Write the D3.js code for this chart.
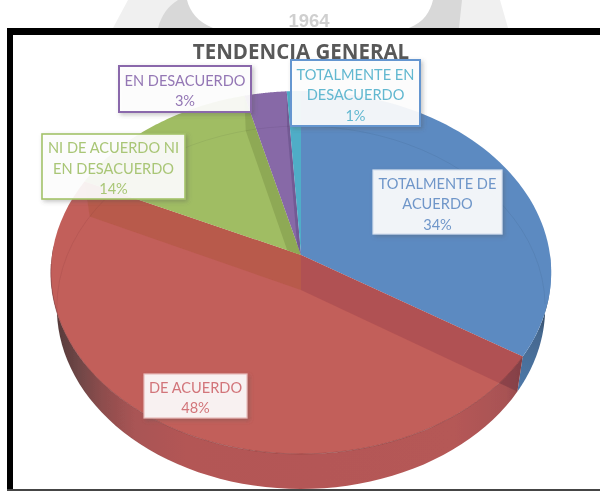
<!DOCTYPE html>
<html><head><meta charset="utf-8">
<script src="https://cdn.jsdelivr.net/npm/d3@7"></script>
<style>html,body{margin:0;padding:0;background:#fff;overflow:hidden}svg{display:block}text{font-family:Lato,"Open Sans",sans-serif}</style>
</head><body><svg id="c" width="600" height="491"></svg>
<script>
const categories = ["TOTALMENTE DE ACUERDO","DE ACUERDO","NI DE ACUERDO NI EN DESACUERDO","EN DESACUERDO","TOTALMENTE EN DESACUERDO"];
const values = [34,48,14,3,1];
const sliceColors = ["#5c8ac1","#c25e5a","#a0bd64","#8769a7","#4fadc7"];
const titleText = "TENDENCIA GENERAL";
const labelLines = [["TOTALMENTE DE","ACUERDO","34%"],["DE ACUERDO","48%"],["NI DE ACUERDO NI","EN DESACUERDO","14%"],["EN DESACUERDO","3%"],["TOTALMENTE EN","DESACUERDO","1%"]];
const labelBoxes = [[373,170,129,64],[144,374,103,44],[42,134,143,65],[119,66,132,46],[291,60,129,66]];
const labelText = ["#6f96c9","#d2757a","#a9c676","#9477b5","#62b8d0"];
const labelStroke = [["#d5e0ef",1.2],["#e8bcbb",1.2],["#a4c26a",1.6],["#8a68ab",2],["#6596d0",2]];

const svg = d3.select("#c");
const defs = svg.append("defs");
const soft = defs.append("filter").attr("id","soft").attr("x","-5%").attr("y","-5%").attr("width","110%").attr("height","110%");
soft.append("feGaussianBlur").attr("stdDeviation",0.55);
const sh = defs.append("filter").attr("id","sh").attr("x","-10%").attr("y","-15%").attr("width","125%").attr("height","135%");
sh.append("feDropShadow").attr("dx",2).attr("dy",2).attr("stdDeviation",2).attr("flood-color","#555").attr("flood-opacity",.35);
const g = svg.append("g").attr("filter","url(#soft)");

// watermark behind the frame
const wm = g.append("g");
wm.append("path").attr("fill","#f0f0f0").attr("d","M128,0 L500,0 L508,28 L113,28 Z");
wm.append("path").attr("fill","#d8d8d8").attr("d","M178,0 L462,0 L459,28 L158,28 C161,16 168,6 178,0 Z");
wm.append("path").attr("fill","#fff").attr("d","M187,0 L433,0 C430,12 424,22 409,28 L213,28 C198,22 190,12 187,0 Z");
wm.append("text").attr("x",309).attr("y",27).attr("text-anchor","middle").attr("font-size",18.5).attr("font-weight",700)
  .style("font-family","'Liberation Sans',sans-serif").attr("fill","#cfcfcf").text("1964");

// perspective projection of the pie disc
const cx=301, ay=255, bx=249, by=179.8, cp=-0.0964, depth=35, shrink=0.976;
const xS=d3.scaleLinear().domain([-1,1]).range([cx-bx,cx+bx]);
const yS=d3.scaleLinear().domain([-1,1]).range([ay-by,ay+by]);
function P(t,z){
  const u=Math.sin(t), v=-Math.cos(t), w=1+cp*v;
  const k=z?shrink:1;
  return [cx+(xS(u/w)-cx)*k, yS(v/w)+(z?depth:0)];
}
function arcPts(a,b,z){return d3.range(0,61).map(i=>P(a+(b-a)*i/60,z));}
const apex=[cx,ay], apexB=[cx,ay+depth];
const line=d3.line();
const arcs=d3.pie().sort(null).value(d=>d)(values);
const R=Math.PI/2;

// gradient for the outer wall
const grad=defs.append("linearGradient").attr("id","wallG").attr("gradientUnits","userSpaceOnUse").attr("x1",55).attr("x2",525).attr("y1",0).attr("y2",0);
[[0,"#553a3a"],[0.05,"#6f4646"],[0.1,"#8d4d4d"],[0.17,"#a95454"],[0.28,"#b35655"],[0.85,"#b55857"],[0.96,"#a85253"],[1,"#8f4a4c"]].forEach(s=>grad.append("stop").attr("offset",s[0]).attr("stop-color",s[1]));
const gradB=defs.append("linearGradient").attr("id","wallB").attr("gradientUnits","userSpaceOnUse").attr("x1",515).attr("x2",552).attr("y1",395).attr("y2",290);
[[0,"#4f7aab"],[0.6,"#45688f"],[0.82,"#2f4156"],[1,"#6d93c0"]].forEach(s=>gradB.append("stop").attr("offset",s[0]).attr("stop-color",s[1]));

// outer walls
const a1=arcs[0], a2=arcs[1];
g.append("path").attr("fill","url(#wallB)").attr("d",line(arcPts(R,a1.endAngle,0).concat(arcPts(a1.endAngle,R,1)))+"Z");
const redWall=line(arcPts(a2.startAngle,3*R+0.05,0).concat(arcPts(3*R+0.05,a2.startAngle,1)))+"Z";
g.append("path").attr("fill","url(#wallG)").attr("d",redWall);
defs.append("clipPath").attr("id","rw").append("path").attr("d",redWall);

// top face slices
arcs.forEach((a,i)=>{
  const d=line([apex].concat(arcPts(a.startAngle,a.endAngle,0)))+"Z";
  defs.append("clipPath").attr("id","s"+i).append("path").attr("d",d);
  g.append("path").attr("d",d).attr("fill",sliceColors[i]);
});

// see-through radial walls, clipped to the slice that owns them
function wall(i,t,col){
  g.append("path").attr("d",line([apex,P(t,0),P(t,1),apexB])+"Z").attr("fill",col).attr("clip-path","url(#s"+i+")");
}
wall(1,a2.startAngle,"#b05152");
wall(1,a2.endAngle,"#b85a4b");
wall(2,arcs[2].endAngle,"#8ea955");
wall(3,arcs[3].endAngle,"#735a94");

// the same red wall where it crosses the outer wall
const t0=a2.startAngle;
g.append("path").attr("d",line([apex,P(t0,0),P(t0,1),apexB])+"Z").attr("fill","#7a3a42").attr("fill-opacity",.6).attr("clip-path","url(#rw)");

// rims
g.append("path").attr("fill","none").attr("stroke","#000").attr("stroke-opacity",.055).attr("stroke-width",1)
 .attr("d",line(arcPts(-R*1.7,R*1.05,1)));
g.append("path").attr("fill","none").attr("stroke","#8a3f40").attr("stroke-opacity",.6).attr("stroke-width",1)
 .attr("d",line(arcPts(a2.startAngle,3*R-0.05,0)));

// title
g.append("text").attr("x",301).attr("y",59).attr("text-anchor","middle").attr("font-size",20.5).attr("font-weight",700).style("font-family","'Open Sans',sans-serif").attr("fill","#595959").text(titleText);

// data labels
categories.forEach((c,i)=>{
  const [x,y,w,h]=labelBoxes[i];
  g.append("rect").attr("x",x).attr("y",y).attr("width",w).attr("height",h)
    .attr("fill","rgba(255,255,255,.9)").attr("stroke",labelStroke[i][0]).attr("stroke-width",labelStroke[i][1]).attr("filter","url(#sh)");
  const L=labelLines[i], lh=20.5, y0=y+h/2-(L.length-1)*lh/2+7;
  L.forEach((t,j)=>g.append("text").attr("x",x+w/2).attr("y",y0+j*lh).attr("text-anchor","middle").attr("font-size",14.6).attr("fill",labelText[i]).text(t));
});

// frame
g.append("rect").attr("x",7).attr("y",28).attr("width",600).attr("height",7).attr("fill","#000");
g.append("rect").attr("x",7).attr("y",28).attr("width",6).attr("height",463).attr("fill","#000");
g.append("rect").attr("x",7).attr("y",489).attr("width",600).attr("height",2).attr("fill","#444");
</script></body></html>
